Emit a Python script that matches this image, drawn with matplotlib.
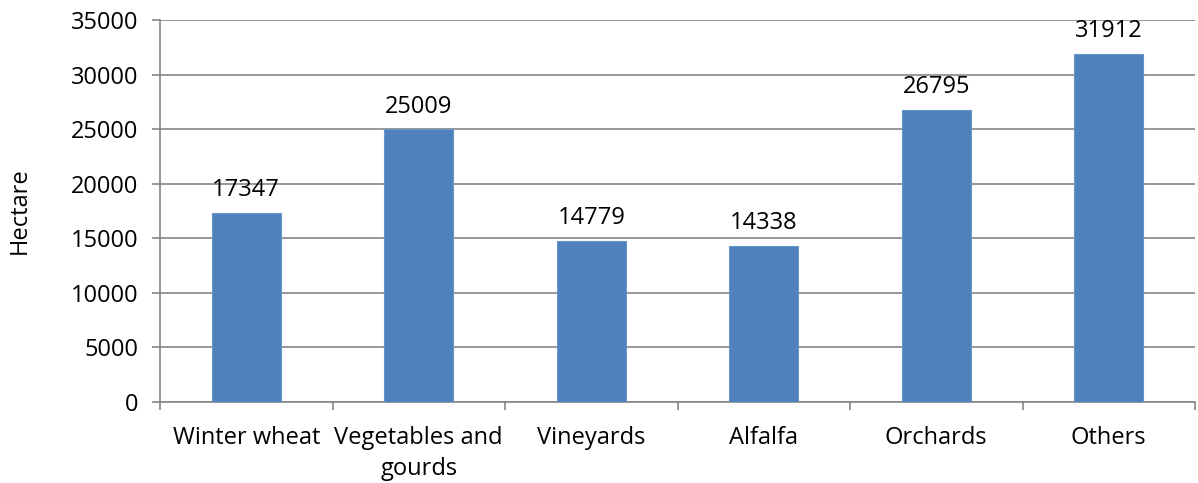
import matplotlib
matplotlib.use("Agg")
import matplotlib.pyplot as plt

categories = ["Winter wheat", "Vegetables and\ngourds", "Vineyards", "Alfalfa", "Orchards", "Others"]
values = [17347, 25009, 14779, 14338, 26795, 31912]
y_ticks = [0, 5000, 10000, 15000, 20000, 25000, 30000, 35000]

FS = 17
plt.rcParams['font.family'] = ['Open Sans', 'DejaVu Sans']
fig = plt.figure(figsize=(11.98, 4.83), dpi=100)
ax = fig.add_axes([160/1198, 1-402/483, 1035/1198, 382/483])

x = list(range(len(categories)))
ax.bar(x, values, width=0.4, color="#4F81BD", edgecolor="#6A95C9", linewidth=0.8, zorder=3)
for xi, v in zip(x, values):
    ax.annotate(str(v), (xi, v), xytext=(0, 7.5), textcoords="offset points",
                ha="center", va="bottom", fontsize=FS, color="black")

ax.set_xlim(-0.5, len(categories) - 0.5)
ax.set_ylim(0, 35000)
ax.set_yticks(y_ticks)
ax.set_yticklabels([str(t) for t in y_ticks], fontsize=FS)
ax.yaxis.grid(True, color="#868686", linewidth=1.2, zorder=0)
ax.set_xticks(x)
ax.set_xticklabels(categories, fontsize=FS, linespacing=1.37)
ax.tick_params(axis="x", length=0, pad=17.5)
ax.set_xticks([i - 0.5 for i in range(len(categories) + 1)], minor=True)
ax.tick_params(axis="x", which="minor", length=5.5, width=1.2, color="#868686")
ax.tick_params(axis="y", length=5.8, width=1.2, color="#868686", pad=10)

for s in ["top", "right"]:
    ax.spines[s].set_visible(False)
for s in ["left", "bottom"]:
    ax.spines[s].set_color("#868686")
    ax.spines[s].set_linewidth(1.2)

ax.set_ylabel("Hectare", fontsize=FS)
ax.yaxis.set_label_coords(-128/1035, 0.5)

fig.savefig("out.png", dpi=100)
